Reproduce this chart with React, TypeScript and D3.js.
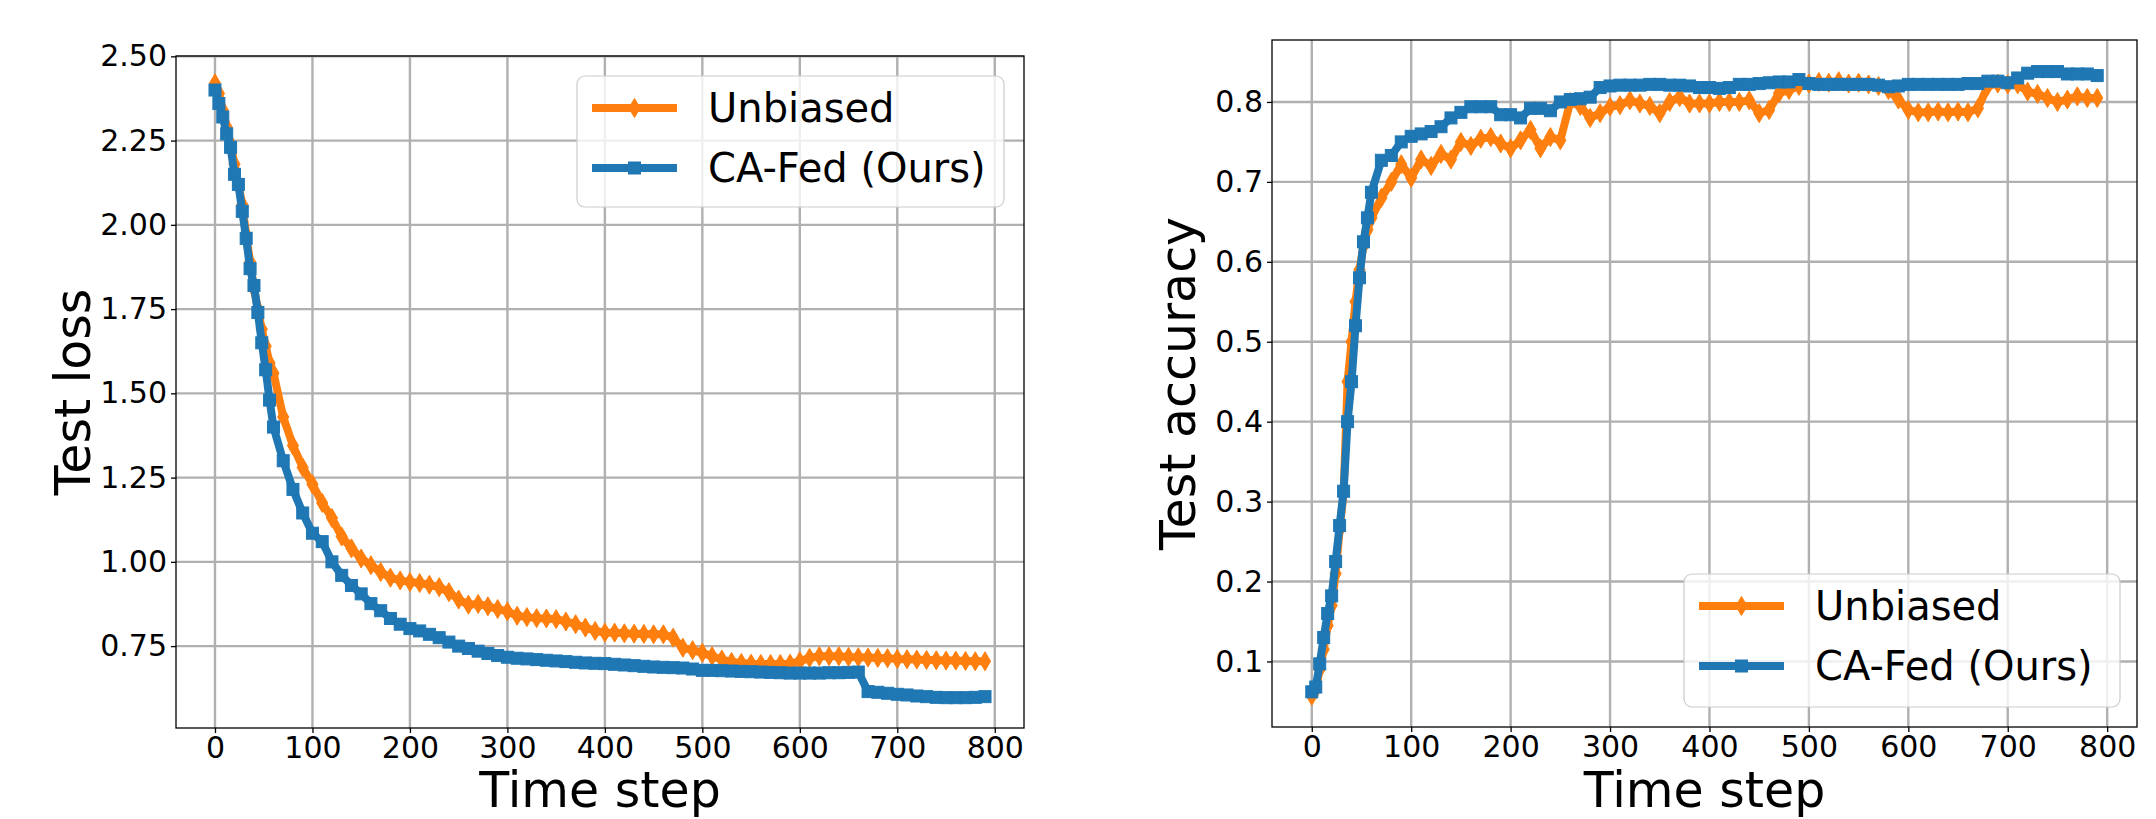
import React, { useEffect, useRef } from "react";
import * as d3 from "d3";

// time steps at which both runs were evaluated
const timeSteps = [
  0, 4, 8, 12, 16, 20, 24, 28, 32, 36, 40, 44, 48, 52, 56,
  60, 70, 80, 90, 100, 110, 120, 130, 140, 150,
  160, 170, 180, 190, 200, 210, 220, 230, 240, 250,
  260, 270, 280, 290, 300, 310, 320, 330, 340, 350,
  360, 370, 380, 390, 400, 410, 420, 430, 440, 450,
  460, 470, 480, 490, 500, 510, 520, 530, 540, 550,
  560, 570, 580, 590, 600, 610, 620, 630, 640, 650,
  660, 670, 680, 690, 700, 710, 720, 730, 740, 750,
  760, 770, 780, 790,
];

const lossUnbiased = [
  2.42, 2.39, 2.34, 2.29, 2.24, 2.18, 2.12, 2.06, 1.97, 1.89, 1.81, 1.75, 1.69, 1.64, 1.59,
  1.56, 1.43, 1.345, 1.28, 1.23, 1.175, 1.13, 1.075, 1.04, 1.01,
  0.99, 0.97, 0.953, 0.945, 0.94, 0.937, 0.932, 0.925, 0.91, 0.888,
  0.873, 0.875, 0.868, 0.86, 0.853, 0.84, 0.836, 0.833, 0.832, 0.83,
  0.823, 0.815, 0.805, 0.795, 0.79, 0.79, 0.788, 0.787, 0.786, 0.785,
  0.785, 0.775, 0.745, 0.738, 0.73, 0.72, 0.71, 0.703, 0.7, 0.698,
  0.697, 0.697, 0.697, 0.698, 0.705, 0.715, 0.72, 0.72, 0.72, 0.718,
  0.717, 0.716, 0.715, 0.714, 0.712, 0.711, 0.71, 0.709, 0.708, 0.707,
  0.707, 0.706, 0.705, 0.705,
];

const lossCAFed = [
  2.4, 2.36, 2.32, 2.27, 2.23, 2.15, 2.12, 2.04, 1.96, 1.87, 1.82, 1.74, 1.65, 1.57, 1.48,
  1.4, 1.3, 1.215, 1.145, 1.085, 1.06, 1.0, 0.96, 0.93, 0.905,
  0.876, 0.855, 0.832, 0.815, 0.802, 0.795, 0.785, 0.775, 0.762, 0.75,
  0.743, 0.735, 0.728, 0.722, 0.717, 0.714, 0.712, 0.71, 0.708, 0.706,
  0.704, 0.702, 0.7, 0.699, 0.698, 0.696, 0.694, 0.692, 0.69, 0.688,
  0.687, 0.686, 0.685, 0.682, 0.678, 0.678, 0.677, 0.676, 0.675, 0.674,
  0.673, 0.672, 0.671, 0.67, 0.67, 0.67, 0.67, 0.671, 0.671, 0.672,
  0.673, 0.615, 0.613, 0.61, 0.607, 0.605, 0.602, 0.6, 0.598, 0.597,
  0.597, 0.597, 0.598, 0.6,
];

const accUnbiased = [
  0.057, 0.065, 0.09, 0.115, 0.145, 0.17, 0.21, 0.265, 0.31, 0.45, 0.5, 0.55, 0.59, 0.62, 0.64,
  0.655, 0.68, 0.7, 0.722, 0.705, 0.728, 0.72, 0.735, 0.728, 0.75,
  0.745, 0.754, 0.756, 0.748, 0.742, 0.752, 0.765, 0.742, 0.756, 0.752,
  0.8, 0.795, 0.78, 0.786, 0.794, 0.796, 0.802, 0.798, 0.795, 0.786,
  0.8, 0.806, 0.798, 0.798, 0.798, 0.8, 0.8, 0.8, 0.802, 0.786,
  0.79, 0.811, 0.815, 0.82, 0.823, 0.825, 0.824, 0.826, 0.823, 0.824,
  0.822, 0.82, 0.815, 0.803, 0.79, 0.787, 0.787, 0.788, 0.787, 0.788,
  0.787, 0.792, 0.82, 0.823, 0.822, 0.822, 0.813, 0.81, 0.805, 0.8,
  0.803, 0.807, 0.805, 0.805,
];

const accCAFed = [
  0.062, 0.068, 0.097, 0.13, 0.16, 0.182, 0.225, 0.27, 0.313, 0.4, 0.45, 0.52, 0.58, 0.625, 0.655,
  0.687, 0.727, 0.733, 0.75, 0.757, 0.76, 0.763, 0.769, 0.78, 0.787,
  0.794, 0.794, 0.794, 0.784, 0.784, 0.78, 0.792, 0.792, 0.789, 0.8,
  0.803, 0.804, 0.806, 0.818, 0.82, 0.821, 0.821, 0.821, 0.822, 0.822,
  0.821, 0.821, 0.82, 0.818, 0.818, 0.817, 0.818, 0.822, 0.822, 0.823,
  0.824, 0.825, 0.825, 0.828, 0.823, 0.822, 0.822, 0.822, 0.822, 0.822,
  0.822, 0.821, 0.819, 0.82, 0.822, 0.822, 0.822, 0.822, 0.822, 0.822,
  0.823, 0.823, 0.826, 0.826, 0.824, 0.83, 0.836, 0.838, 0.838, 0.838,
  0.835, 0.835, 0.835, 0.833,
];

const timeTicks = [0, 100, 200, 300, 400, 500, 600, 700, 800];
const lossTicks = [0.75, 1.0, 1.25, 1.5, 1.75, 2.0, 2.25, 2.5];
const accTicks = [0.1, 0.2, 0.3, 0.4, 0.5, 0.6, 0.7, 0.8];
const seriesNames = ["Unbiased", "CA-Fed (Ours)"];

const ORANGE = "#ff7f0e";
const BLUE = "#1f77b4";
const FONT = "'DejaVu Sans', sans-serif";
const DIAMOND = "M0,-9.5L5.6,0L0,9.5L-5.6,0Z";

const panels = [
  {
    box: { left: 176, top: 56, right: 1024, bottom: 728 },
    yDomain: [0.507, 2.501],
    yTicks: lossTicks,
    fmt: ".2f",
    yLabel: "Test loss",
    yLabelX: 90,
    series: [lossUnbiased, lossCAFed],
    legend: { x: 577, y: 76, w: 427, h: 131 },
  },
  {
    box: { left: 1272, top: 40, right: 2137, bottom: 727 },
    yDomain: [0.018, 0.8775],
    yTicks: accTicks,
    fmt: ".1f",
    yLabel: "Test accuracy",
    yLabelX: 1195,
    series: [accUnbiased, accCAFed],
    legend: { x: 1684, y: 574, w: 436, h: 133 },
  },
];

function drawMarker(sel, kind, color) {
  if (kind === 0) {
    sel.append("path").attr("d", DIAMOND).attr("fill", color).attr("stroke", color).attr("stroke-width", 1);
  } else {
    sel.append("rect").attr("x", -6).attr("y", -6).attr("width", 12).attr("height", 12)
      .attr("fill", color).attr("stroke", color).attr("stroke-width", 1);
  }
}

function Panel({ cfg }) {
  const ref = useRef(null);
  useEffect(() => {
    const g = d3.select(ref.current);
    g.selectAll("*").remove();
    const b = cfg.box;
    const x = d3.scaleLinear().domain([-40, 830]).range([b.left, b.right]);
    const y = d3.scaleLinear().domain(cfg.yDomain).range([b.bottom, b.top]);

    // grid
    g.append("g").selectAll("line").data(timeTicks).join("line")
      .attr("x1", (d) => x(d)).attr("x2", (d) => x(d))
      .attr("y1", b.top).attr("y2", b.bottom)
      .attr("stroke", "#b0b0b0").attr("stroke-width", 2.4);
    g.append("g").selectAll("line").data(cfg.yTicks).join("line")
      .attr("x1", b.left).attr("x2", b.right)
      .attr("y1", (d) => y(d)).attr("y2", (d) => y(d))
      .attr("stroke", "#b0b0b0").attr("stroke-width", 2.4);

    // axes
    const xAxis = g.append("g")
      .attr("transform", `translate(0,${b.bottom})`)
      .call(d3.axisBottom(x).tickValues(timeTicks).tickSize(5).tickPadding(4));
    const yAxis = g.append("g")
      .attr("transform", `translate(${b.left},0)`)
      .call(d3.axisLeft(y).tickValues(cfg.yTicks).tickFormat(d3.format(cfg.fmt)).tickSize(5).tickPadding(4));
    [xAxis, yAxis].forEach((a) => {
      a.select(".domain").remove();
      a.selectAll("line").attr("stroke", "#000").attr("stroke-width", 1.3);
      a.selectAll("text").attr("font-family", FONT).attr("font-size", 30).attr("fill", "#000");
    });

    // series, orange first so blue sits on top
    const colors = [ORANGE, BLUE];
    cfg.series.forEach((vals, k) => {
      const line = d3.line().x((d, i) => x(timeSteps[i])).y((d) => y(d));
      g.append("path").datum(vals).attr("d", line)
        .attr("fill", "none").attr("stroke", colors[k]).attr("stroke-width", 8)
        .attr("stroke-linejoin", "round");
      const m = g.append("g").selectAll("g").data(vals).join("g")
        .attr("transform", (d, i) => `translate(${x(timeSteps[i])},${y(d)})`);
      m.each(function () {
        drawMarker(d3.select(this), k, colors[k]);
      });
    });

    // spines
    g.append("rect")
      .attr("x", b.left).attr("y", b.top)
      .attr("width", b.right - b.left).attr("height", b.bottom - b.top)
      .attr("fill", "none").attr("stroke", "#000").attr("stroke-width", 1.3);

    // axis labels
    g.append("text")
      .attr("x", (b.left + b.right) / 2).attr("y", 807)
      .attr("text-anchor", "middle").attr("font-family", FONT).attr("font-size", 49)
      .text("Time step");
    g.append("text")
      .attr("transform", `translate(${cfg.yLabelX},${(b.top + b.bottom) / 2}) rotate(-90)`)
      .attr("text-anchor", "middle").attr("font-family", FONT).attr("font-size", 49)
      .text(cfg.yLabel);

    // legend
    const L = cfg.legend;
    const lg = g.append("g").attr("transform", `translate(${L.x},${L.y})`);
    lg.append("rect").attr("width", L.w).attr("height", L.h).attr("rx", 8)
      .attr("fill", "#fff").attr("fill-opacity", 0.8)
      .attr("stroke", "#cccccc").attr("stroke-width", 1.2);
    seriesNames.forEach((name, k) => {
      const ry = 32 + k * 60;
      lg.append("line").attr("x1", 15).attr("x2", 100).attr("y1", ry).attr("y2", ry)
        .attr("stroke", colors[k]).attr("stroke-width", 8);
      const mk = lg.append("g").attr("transform", `translate(57.5,${ry})`);
      drawMarker(mk, k, colors[k]);
      lg.append("text").attr("x", 131).attr("y", ry + 14)
        .attr("font-family", FONT).attr("font-size", 40).text(name);
    });
  }, [cfg]);
  return <g ref={ref} />;
}

export default function App() {
  return (
    <svg
      width={2156}
      height={819}
      style={{ position: "absolute", left: 0, top: 0, background: "#fff" }}
    >
      <rect width={2156} height={819} fill="#fff" />
      {panels.map((p, i) => (
        <Panel key={i} cfg={p} />
      ))}
    </svg>
  );
}
